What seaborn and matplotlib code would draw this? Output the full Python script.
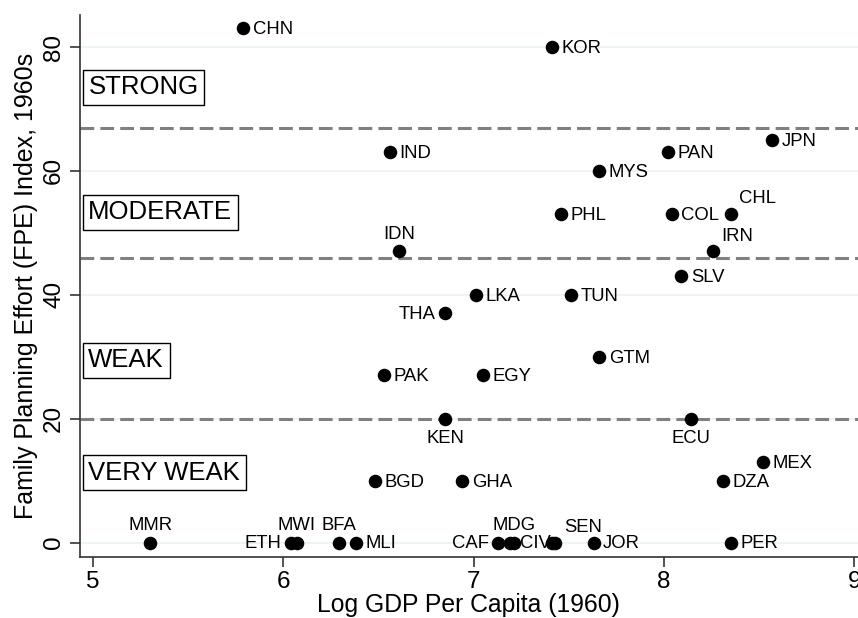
import matplotlib.pyplot as plt
import matplotlib.transforms as mtransforms
import pandas as pd
import seaborn as sns

# Data
countries = ["CHN", "KOR", "JPN", "PAN", "IND", "MYS", "PHL", "COL", "CHL",
             "IDN", "IRN", "SLV", "LKA", "TUN", "THA", "GTM", "PAK", "EGY",
             "KEN", "ECU", "MEX", "BGD", "GHA", "DZA", "MMR", "ETH", "MWI",
             "BFA", "MLI", "CAF", "MDG", "CIV", "", "SEN", "JOR", "PER"]
log_gdp = [5.79, 7.41, 8.57, 8.02, 6.56, 7.66, 7.46, 8.04, 8.35,
           6.61, 8.26, 8.09, 7.01, 7.51, 6.85, 7.66, 6.53, 7.05,
           6.85, 8.14, 8.52, 6.48, 6.94, 8.31, 5.30, 6.04, 6.07,
           6.29, 6.38, 7.13, 7.21, 7.19, 7.41, 7.43, 7.63, 8.35]
fpe = [83, 80, 65, 63, 63, 60, 53, 53, 53,
       47, 47, 43, 40, 40, 37, 30, 27, 27,
       20, 20, 13, 10, 10, 10, 0, 0, 0,
       0, 0, 0, 0, 0, 0, 0, 0, 0]
# label position (clock style): 3 = right, 9 = left, 12 = above, 6 = below, 1 = upper right
label_pos = [3, 3, 3, 3, 3, 3, 3, 3, 1,
             12, 1, 3, 3, 3, 9, 3, 3, 3,
             6, 6, 3, 3, 3, 3, 12, 9, 12,
             12, 3, 9, 12, 3, 3, 1, 3, 3]

cutoffs = [67, 46, 20]
categories = ["STRONG", "MODERATE", "WEAK", "VERY WEAK"]
category_y = [73.5, 53.3, 29.4, 11.3]

df = pd.DataFrame({"country": countries, "gdp": log_gdp, "fpe": fpe, "pos": label_pos})

sns.set_style("white")
plt.rcParams["font.family"] = ["Liberation Sans", "DejaVu Sans"]
plt.rcParams["text.color"] = "black"
plt.rcParams["axes.labelcolor"] = "black"
plt.rcParams["xtick.color"] = "black"
plt.rcParams["ytick.color"] = "black"

fig = plt.figure(figsize=(8.58, 6.18), dpi=100)
ax = fig.add_axes([0.093, 0.099, 0.907, 0.877])

for y in [0, 20, 40, 60, 80]:
    ax.axhline(y, color="#eaf2f3", linewidth=1.2, zorder=0)
for c in cutoffs:
    ax.axhline(c, color="#808080", linewidth=2.2, linestyle=(0, (4.5, 2)), zorder=1)

sns.scatterplot(data=df, x="gdp", y="fpe", color="black", s=95,
                edgecolor="black", linewidth=0, ax=ax, zorder=3)

offsets = {3: (7, -1, "left", "center"), 9: (-7, -1, "right", "center"),
           12: (0, 6, "center", "bottom"), 6: (0, -8, "center", "top"),
           1: (6, 5, "left", "bottom")}
for _, r in df.iterrows():
    if not r["country"]:
        continue
    dx, dy, ha, va = offsets[r["pos"]]
    ax.annotate(r["country"], (r["gdp"], r["fpe"]), xytext=(dx, dy),
                textcoords="offset points", ha=ha, va=va, fontsize=13.3, zorder=4)

trans = mtransforms.blended_transform_factory(ax.transAxes, ax.transData)
for name, y in zip(categories, category_y):
    ax.text(0.011, y, name, transform=trans, fontsize=18.5, ha="left", va="center",
            bbox=dict(boxstyle="square,pad=0.22", facecolor="white",
                      edgecolor="black", linewidth=1.0), zorder=5)

ax.set_xlim(4.93, 9.02)
ax.set_ylim(-2.3, 85.2)
ax.set_xticks([5, 6, 7, 8, 9])
ax.set_yticks([0, 20, 40, 60, 80])
ax.tick_params(axis="both", direction="out", length=7, width=1.2,
               color="#333333", labelsize=17.5, left=True, bottom=True)
for lab in ax.get_yticklabels():
    lab.set_rotation(90)
    lab.set_va("center")
sns.despine(ax=ax)
for s in ["left", "bottom"]:
    ax.spines[s].set_color("#333333")
    ax.spines[s].set_linewidth(1.2)

ax.set_xlabel("Log GDP Per Capita (1960)", fontsize=17.8, labelpad=0)
ax.set_ylabel("Family Planning Effort (FPE) Index, 1960s", fontsize=18, labelpad=4)

fig.savefig("out.png", dpi=100)
